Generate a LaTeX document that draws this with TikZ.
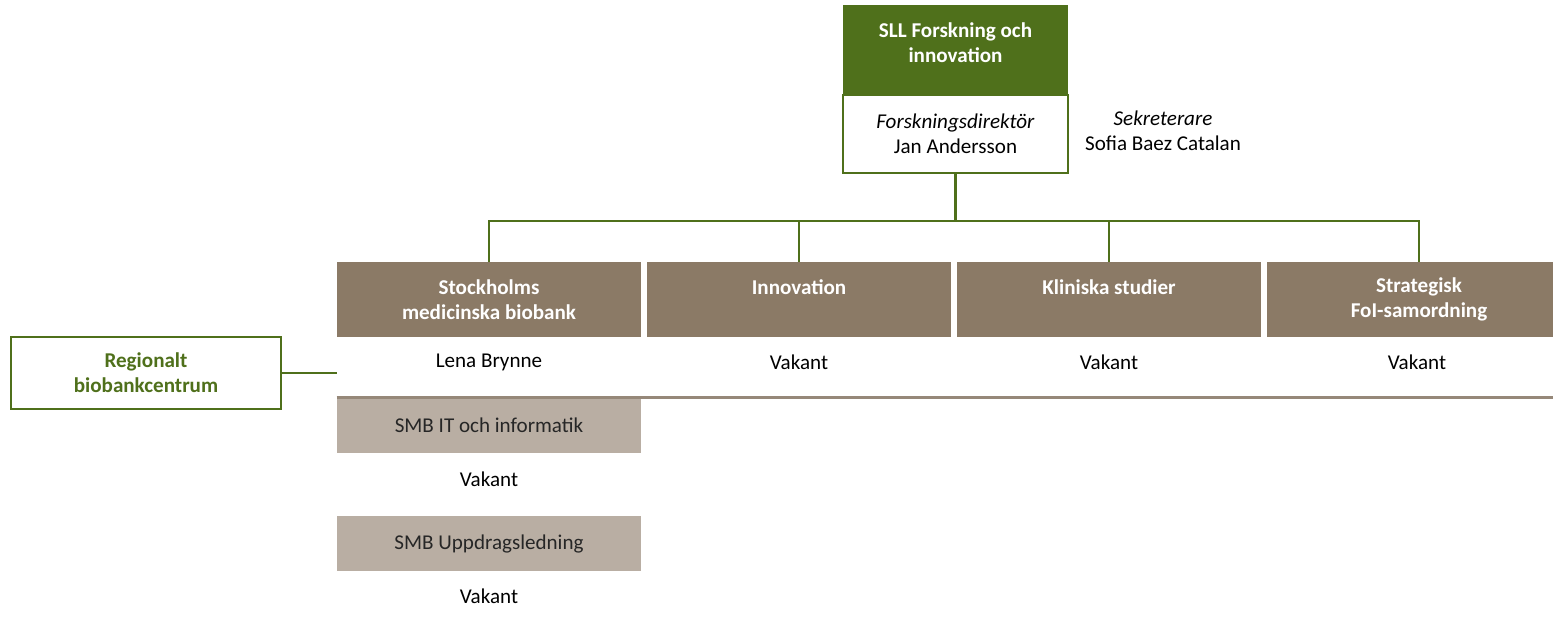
\documentclass[tikz,border=0pt]{standalone}
\usepackage{fontspec}
\setmainfont{Carlito}
\usepackage{tikz}
\usetikzlibrary{positioning}
\definecolor{folgreen}{RGB}{79,112,27}
\definecolor{unitbrown}{RGB}{139,122,102}
\definecolor{subbrown}{RGB}{185,174,163}
\definecolor{rulebrown}{RGB}{150,136,121}
\newcommand{\orgfont}{\fontsize{12}{14.4}\selectfont}

\begin{document}
\begin{tikzpicture}[x=0.02cm, y=-0.02cm,
    every node/.style={align=center, inner sep=0pt, font=\orgfont},
    headbox/.style={fill=folgreen, minimum width=4.5cm, minimum height=1.8cm},
    headtext/.style={text=white, font=\orgfont\bfseries},
    dirbox/.style={draw=folgreen, line width=1.3pt, fill=white, minimum width=4.5cm, minimum height=1.56cm},
    unitbox/.style={fill=unitbrown, minimum width=6.08cm, minimum height=1.5cm, text=white, font=\orgfont\bfseries},
    subbox/.style={fill=subbrown, minimum width=6.08cm, minimum height=1.1cm, text=black!85},
    regbox/.style={draw=folgreen, line width=1.5pt, minimum width=5.4cm, minimum height=1.44cm, text=folgreen, font=\orgfont\bfseries},
    conn/.style={folgreen, line width=1.5pt},
    sepline/.style={rulebrown, line width=1.4pt}]
    \useasboundingbox (0,0) rectangle (1553,628);

    % Ledning
    \node[headbox] (head) at (955.5,50) {};
    \node[headtext] (headlbl) at (955.5,43) {SLL Forskning och\\innovation};
    \node[dirbox] (dir) at (955.5,134) {\textit{Forskningsdirektör}\\Jan Andersson};
    \node (sek) at (1163,131) {\textit{Sekreterare}\\Sofia Baez Catalan};

    % Enheter
    \node[unitbox] (smb) at (489,299.5) {Stockholms\\medicinska biobank};
    \node[unitbox] (inno) at (799,299.5) {Innovation\\~};
    \node[unitbox] (klin) at (1109,299.5) {Kliniska studier\\~};
    \node[unitbox] (strat) at (1419,299.5) {Strategisk\\FoI-samordning};

    % Namn
    \node (smbname) at (489,362) {Lena Brynne};
    \node (innoname) at (799,362) {Vakant};
    \node (klinname) at (1109,362) {Vakant};
    \node (stratname) at (1417,362) {Vakant};

    % Linjer
    \coordinate (bar) at (955.5,221);
    \draw[conn] (dir.south) -- (bar);
    \foreach \u in {smb,inno,klin,strat}
        \draw[conn] (bar) -| (\u.north);

    % SMB
    \node[subbox] (itb) at (489,425.5) {SMB IT och informatik};
    \node (itname) at (489,479) {Vakant};
    \node[subbox] (upp) at (489,543.5) {SMB Uppdragsledning};
    \node (uppname) at (489,596) {Vakant};
    \draw[sepline] (itb.north west) -- (itb.north west -| strat.east);

    % Regionalt biobankcentrum
    \node[regbox] (reg) at (146,373) {Regionalt\\biobankcentrum};
    \draw[conn] (reg.east) -- (reg.east -| smb.west);
\end{tikzpicture}
\end{document}
